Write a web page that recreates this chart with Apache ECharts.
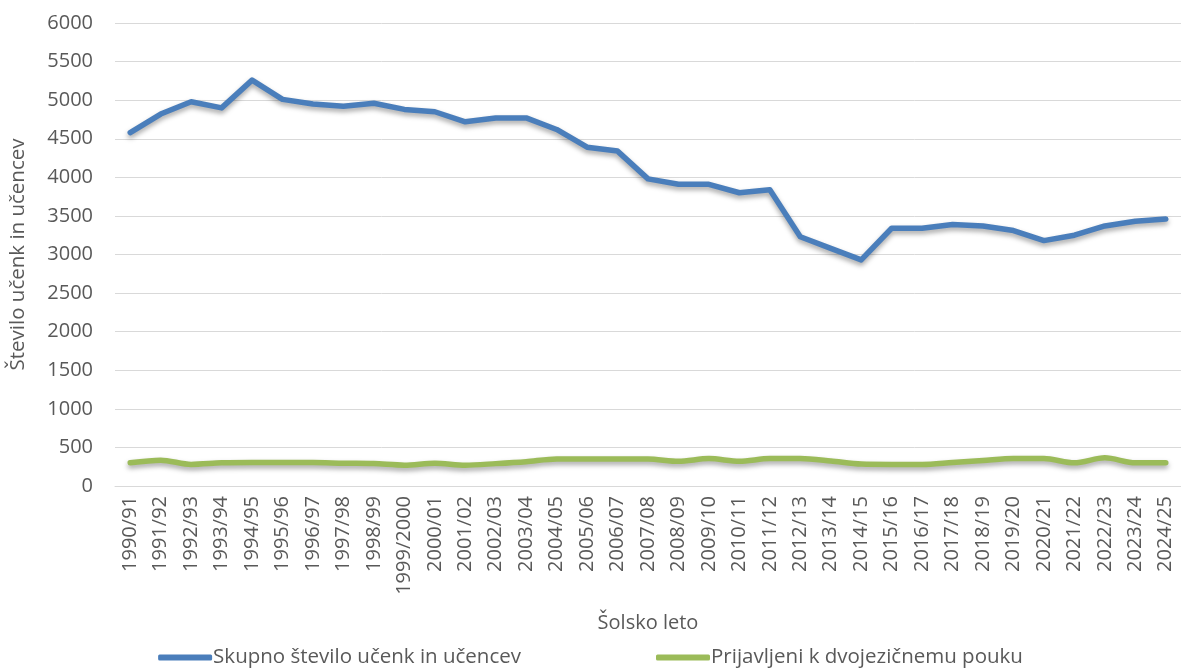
<!DOCTYPE html>
<html>
<head>
<meta charset="utf-8">
<script src="https://cdn.jsdelivr.net/npm/echarts@6/dist/echarts.min.js"></script>
<style>
html,body{margin:0;padding:0;background:#fff;}
#chart{width:1181px;height:668px;}
</style>
</head>
<body>
<div id="chart"></div>
<script>
var categories = ["1990/91","1991/92","1992/93","1993/94","1994/95","1995/96","1996/97","1997/98","1998/99","1999/2000","2000/01","2001/02","2002/03","2003/04","2004/05","2005/06","2006/07","2007/08","2008/09","2009/10","2010/11","2011/12","2012/13","2013/14","2014/15","2015/16","2016/17","2017/18","2018/19","2019/20","2020/21","2021/22","2022/23","2023/24","2024/25"];
var totalStudents = [4580,4820,4980,4900,5260,5010,4950,4920,4960,4880,4850,4720,4770,4770,4620,4390,4340,3980,3910,3910,3800,3840,3230,3080,2930,3340,3340,3390,3370,3310,3180,3250,3370,3430,3460];
var bilingualStudents = [300,335,280,300,305,305,305,295,290,270,295,270,290,315,350,350,350,350,320,355,320,355,355,325,285,280,280,305,330,355,355,300,365,300,300];
var yTicks = {min:0, max:6000, interval:500};
var seriesNames = ["Skupno število učenk in učencev","Prijavljeni k dvojezičnemu pouku"];
var axisNames = {x:"Šolsko leto", y:"Število učenk in učencev"};

var font = "Open Sans";
var chart = echarts.init(document.getElementById('chart'), null, {renderer:'canvas'});
chart.setOption({
  animation:false,
  backgroundColor:'#ffffff',
  grid:{left:115, right:-12, top:23, bottom:182, containLabel:false},
  legend:{
    top:642, left:'center',
    itemWidth:54, itemHeight:6, itemGap:135,
    icon:'roundRect',
    textStyle:{fontFamily:font, fontSize:20.5, color:'#595959', padding:[0,0,0,-4]},
    data:seriesNames
  },
  xAxis:{
    type:'category', data:categories, boundaryGap:true,
    name:axisNames.x, nameLocation:'middle', nameGap:127,
    nameTextStyle:{fontFamily:font, fontSize:20, color:'#595959'},
    axisLine:{show:true, lineStyle:{color:'#d9d9d9', width:1}},
    axisTick:{show:false},
    axisLabel:{rotate:90, interval:0, margin:10, fontFamily:font, fontSize:20, color:'#595959'}
  },
  yAxis:{
    type:'value', min:yTicks.min, max:yTicks.max, interval:yTicks.interval,
    name:axisNames.y, nameLocation:'middle', nameGap:86,
    nameTextStyle:{fontFamily:font, fontSize:20.5, color:'#595959'},
    axisLine:{show:false}, axisTick:{show:false},
    axisLabel:{margin:22, fontFamily:font, fontSize:20, color:'#595959', formatter:function(v){return String(v);}},
    splitLine:{lineStyle:{color:'#d9d9d9', width:1}}
  },
  series:[
    {name:seriesNames[0], type:'line', data:totalStudents, symbol:'none', showSymbol:false,
     itemStyle:{color:'#4a7ebb'},
     lineStyle:{color:'#4a7ebb', width:5.5, cap:'round', join:'round', shadowColor:'rgba(0,0,0,0.35)', shadowBlur:5, shadowOffsetY:3}},
    {name:seriesNames[1], type:'line', data:bilingualStudents, symbol:'none', showSymbol:false, smooth:0.3,
     itemStyle:{color:'#9bbb59'},
     lineStyle:{color:'#9bbb59', width:5.5, cap:'round', join:'round', shadowColor:'rgba(0,0,0,0.35)', shadowBlur:5, shadowOffsetY:3}}
  ]
});
</script>
</body>
</html>
